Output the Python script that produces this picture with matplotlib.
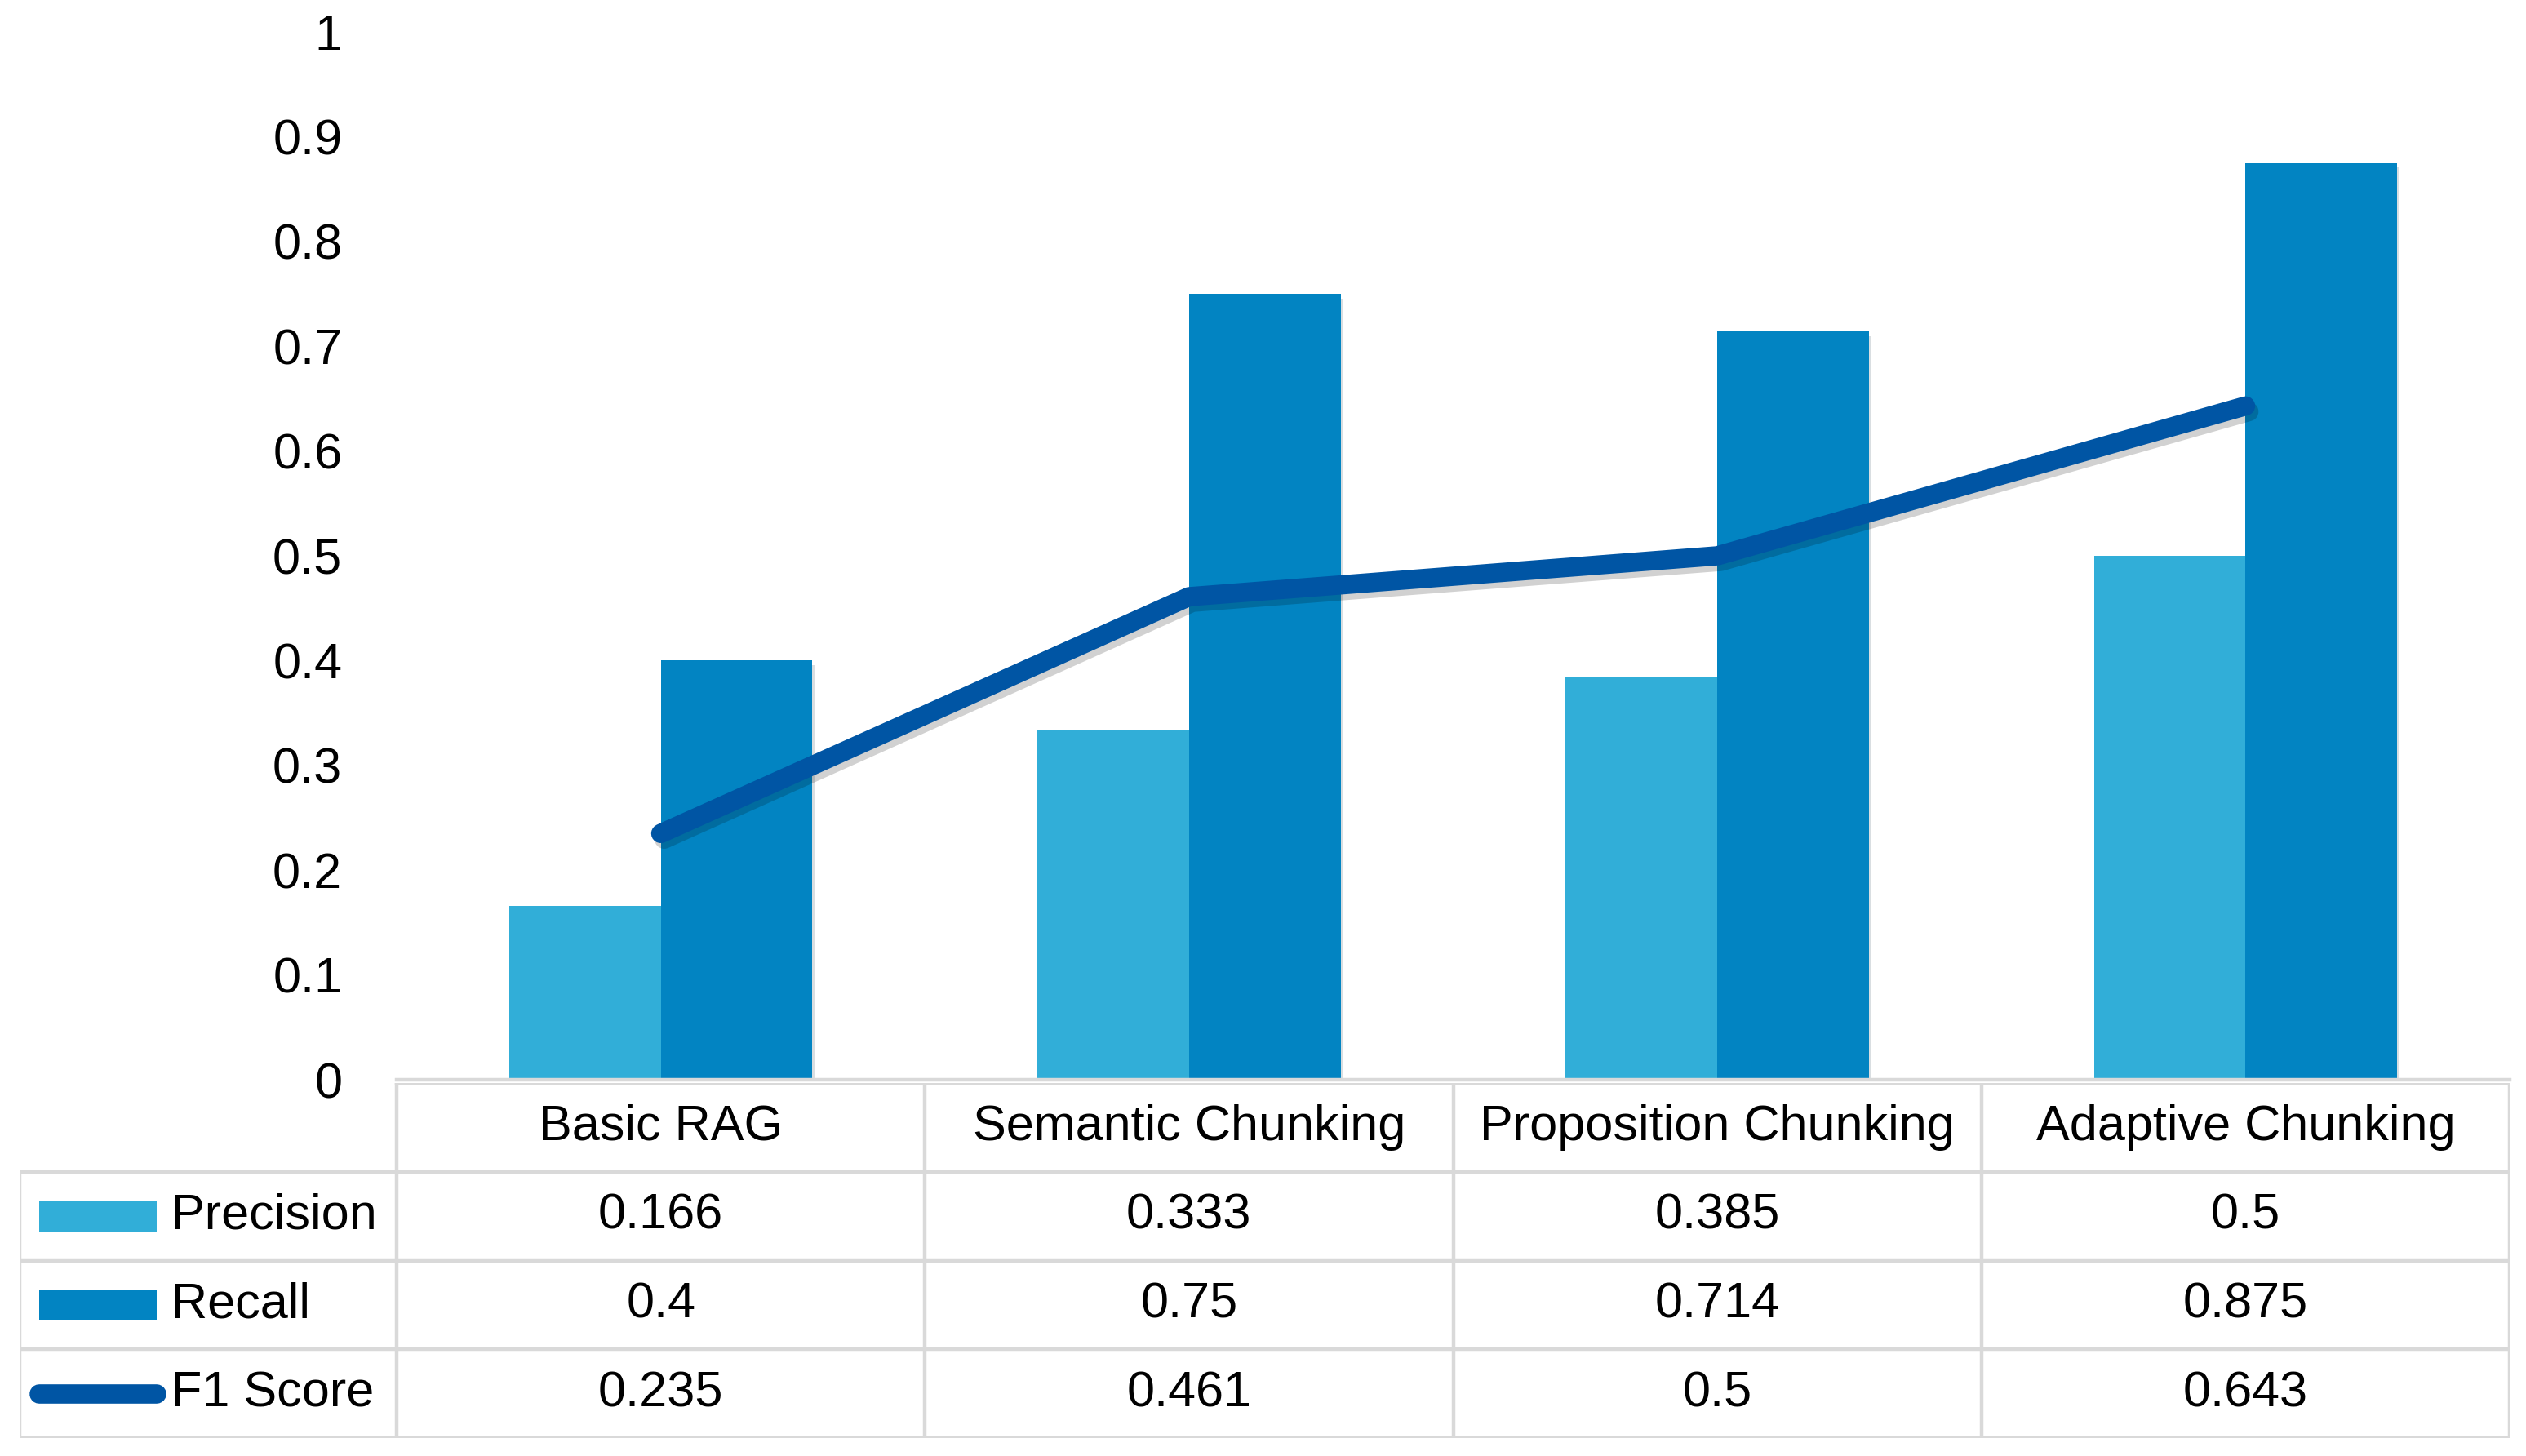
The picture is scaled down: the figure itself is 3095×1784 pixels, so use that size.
"""
Precision / Recall / F1 comparison of chunking strategies, with data table
"""

import matplotlib
matplotlib.use('Agg')
import matplotlib.pyplot as plt
import matplotlib.patheffects as pe
import numpy as np

categories = ['Basic RAG', 'Semantic Chunking', 'Proposition Chunking', 'Adaptive Chunking']
precision = [0.166, 0.333, 0.385, 0.5]
recall = [0.4, 0.75, 0.714, 0.875]
f1_score = [0.235, 0.461, 0.5, 0.643]
series_names = ['Precision', 'Recall', 'F1 Score']
y_ticks = [0, 0.1, 0.2, 0.3, 0.4, 0.5, 0.6, 0.7, 0.8, 0.9, 1]
y_tick_labels = ['0', '0.1', '0.2', '0.3', '0.4', '0.5', '0.6', '0.7', '0.8', '0.9', '1']

c_prec = '#31AED8'
c_rec = '#0284C2'
c_f1 = '#0055A4'
c_grid = '#D9D9D9'

plt.rcParams['font.family'] = ['Liberation Sans', 'DejaVu Sans']
FS = 22

W, H = 3095, 1784
fig = plt.figure(figsize=(W / 200, H / 200), dpi=200)

# pixel layout of the reference
x_left, x_right = 486, 3075
y_zero, y_one = 1323, 39
tab_left, tab_top, tab_bottom = 24, 1327, 1762

ax = fig.add_axes([x_left / W, 1 - y_zero / H, (x_right - x_left) / W, (y_zero - y_one) / H])
x = np.arange(len(categories))
bw = 0.287

shadow = [pe.SimplePatchShadow(offset=(1, -2), alpha=0.15), pe.Normal()]
bars1 = ax.bar(x - bw / 2, precision, bw, color=c_prec, zorder=2)
bars2 = ax.bar(x + bw / 2, recall, bw, color=c_rec, zorder=2)
for b in list(bars1) + list(bars2):
    b.set_path_effects(shadow)
ax.plot(x, f1_score, color=c_f1, lw=8.5, solid_capstyle='round', zorder=3,
        path_effects=[pe.SimpleLineShadow(offset=(1.5, -2.5), alpha=0.18), pe.Normal()])

ax.set_xlim(-0.5, len(categories) - 0.5)
ax.set_ylim(0, 1)
ax.set_yticks(y_ticks)
ax.set_yticklabels(y_tick_labels, fontsize=FS)
ax.set_xticks([])
ax.tick_params(axis='y', length=0, pad=24)
for s in ['top', 'right', 'left']:
    ax.spines[s].set_visible(False)
ax.spines['bottom'].set_color(c_grid)
ax.spines['bottom'].set_linewidth(1.6)

# data table underneath
px = (x_right - x_left) / len(categories)
left_w = (x_left - tab_left) / px
tx = fig.add_axes([tab_left / W, 1 - tab_bottom / H, (x_right - tab_left) / W, (tab_bottom - tab_top) / H])
x0 = -0.5 - left_w
x_end = len(categories) - 0.5
tx.set_xlim(x0, x_end)
tx.set_ylim(4, 0)
tx.axis('off')

lk = dict(color=c_grid, lw=1.6)
tx.plot([-0.5, x_end], [0, 0], **lk)
for r in [1, 2, 3, 4]:
    tx.plot([x0, x_end], [r, r], **lk)
tx.plot([x0, x0], [1, 4], **lk)
for c in range(len(categories) + 1):
    tx.plot([c - 0.5, c - 0.5], [0, 4], **lk)

for i, cat in enumerate(categories):
    tx.text(i, 0.5, cat, ha='center', va='center', fontsize=FS)
rows = [precision, recall, f1_score]
for r, vals in enumerate(rows):
    for i, v in enumerate(vals):
        tx.text(i, r + 1.5, f'{v:g}', ha='center', va='center', fontsize=FS)

sw_l = x0 + (48 - tab_left) / px
sw_r = x0 + (192 - tab_left) / px
txt_x = x0 + (210 - tab_left) / px
for r, (name, col) in enumerate(zip(series_names, [c_prec, c_rec, c_f1])):
    yc = r + 1.5
    if r < 2:
        tx.fill_between([sw_l, sw_r], yc - 0.17, yc + 0.17, color=col, lw=0)
    else:
        tx.plot([sw_l, sw_r], [yc, yc], color=col, lw=8.5, solid_capstyle='round')
    tx.text(txt_x, yc, name, ha='left', va='center', fontsize=FS)

fig.savefig('out.png', dpi=200)
plt.close(fig)
